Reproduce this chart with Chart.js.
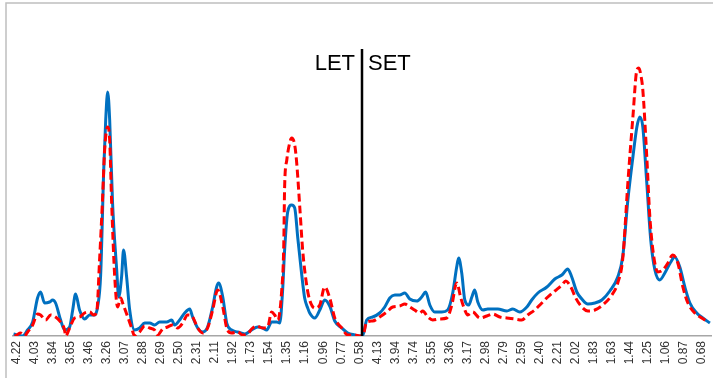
<!DOCTYPE html>
<html>
<head>
<meta charset="utf-8">
<script src="https://cdn.jsdelivr.net/npm/chart.js@4.4.1/dist/chart.umd.min.js"></script>
<style>
  html, body { margin: 0; padding: 0; background: #ffffff; }
  #wrap { width: 713px; height: 378px; }
</style>
</head>
<body>
<div id="wrap"><canvas id="c" width="713" height="378"></canvas></div>
<script>
// Tick labels (chemical shift, ppm) — LET half then SET half
const tickLabels = ['4.22','4.03','3.84','3.65','3.46','3.26','3.07','2.88','2.69','2.50','2.31','2.11','1.92','1.73','1.54','1.35','1.16','0.96','0.77','0.58',
                    '4.13','3.94','3.74','3.55','3.36','3.17','2.98','2.79','2.59','2.40','2.21','2.02','1.83','1.63','1.44','1.25','1.06','0.87','0.68'];
// x positions are in tenths of a label interval (label k sits at 10*k)
const blueX = [-1.7,3.3,6.1,8.9,11.6,13.3,15.5,18.3,20.0,21.6,24.4,26.6,29.4,31.1,32.7,34.9,37.7,40.5,43.3,44.9,46.6,48.3,49.4,50.5,51.6,53.2,55.5,56.6,58.2,59.3,61.0,62.7,65.4,68.2,71.0,73.8,76.5,79.3,83.2,86.0,87.6,90.4,93.2,96.0,97.6,100.4,103.2,105.9,108.7,110.9,112.0,114.3,116.5,119.2,122.6,126.5,128.7,130.3,133.7,136.4,138.7,141.4,144.2,145.9,147.5,148.6,150.3,152.5,154.2,155.9,158.1,159.7,161.4,162.5,165.3,168.1,170.8,173.6,176.4,180.3,183.6,187.5,190.2,
  191.8,194.1,197.4,201.3,204.1,206.9,209.7,212.4,215.2,218.0,221.9,224.6,226.8,229.1,231.8,235.7,239.0,241.8,244.0,245.1,246.8,248.5,250.7,252.4,254.0,255.7,258.5,261.2,266.8,271.8,275.1,279.0,282.9,285.6,289.0,294.0,298.4,302.3,305.6,307.8,310.6,313.4,316.7,320.6,324.5,328.9,333.3,336.1,338.9,341.7,343.9,345.5,347.2,349.4,351.6,353.9,356.6,359.4,362.7,364.9,367.7,370.5,373.3,377.1,380.5,384.4];
const blueY = [2,0,6,14,38,44,33,34,36,33,16,6,9,26,42,26,17,21,21,29,61,166,216,244,216,133,66,39,59,86,59,26,6,8,13,13,11,14,14,16,11,16,23,27,19,8,4,9,29,49,53,39,13,6,4,2,4,6,9,8,6,14,14,13,46,86,124,131,128,98,61,38,28,23,18,26,36,30,15,8,3,1,0,
  0,16,19,23,29,38,41,41,43,37,35,39,44,31,24,24,26,43,69,78,63,36,31,39,46,34,26,27,27,25,27,24,29,36,43,49,57,61,67,59,44,37,32,33,36,45,59,80,136,179,209,219,209,153,96,66,56,63,74,79,69,49,33,23,18,13];
const redX = [-1.1,0,2.2,4.4,6.1,8.9,11.6,13.3,16.1,18.9,21.6,24.4,26.6,27.2,29.4,32.2,34.9,37.7,40.5,42.7,44.4,46.0,47.7,48.8,50.5,51.6,52.7,54.4,56.0,57.7,58.8,61.6,63.8,65.4,68.2,71.0,73.8,76.5,78.2,81.0,83.7,86.5,89.3,92.1,94.8,97.6,100.4,103.2,105.9,108.7,111.5,114.3,116.5,119.2,122.6,125.3,128.1,130.3,133.1,136.4,139.2,141.4,143.1,144.8,147.0,148.1,148.6,149.8,151.4,152.5,154.2,155.3,157.0,158.6,160.8,162.5,165.3,168.1,170.8,173.6,176.4,180.3,183.6,187.5,190.2,
  191.9,194.1,197.4,201.3,205.2,208.5,212.4,215.2,218.0,220.7,223.5,225.2,228.0,230.7,234.6,238.5,241.3,244.0,246.3,248.5,250.1,252.9,256.8,260.7,264.0,267.9,271.8,276.2,280.1,283.4,287.3,291.2,294.5,298.4,302.3,304.5,307.3,310.0,313.4,316.7,320.6,325.0,330.0,333.3,336.1,338.9,341.7,343.9,345.0,346.1,347.2,349.4,351.1,353.3,355.5,358.3,361.1,363.8,366.6,369.4,372.2,376.0,379.9,383.3];
const redY = [0,1,3,0,4,11,22,21,16,21,19,14,6,0,8,18,19,23,24,21,24,76,139,186,209,196,133,59,29,38,33,19,8,0,4,10,8,6,1,7,9,11,8,13,21,19,8,3,8,26,46,29,8,3,4,1,2,7,10,8,9,24,21,16,46,89,149,176,193,198,191,173,129,86,51,36,28,31,49,38,18,8,1,1,0,
  0,14,15,19,24,29,30,32,29,26,23,25,19,16,17,18,31,53,38,26,21,24,18,20,22,19,18,17,16,21,26,33,39,45,51,55,49,38,29,25,26,31,41,53,78,153,219,266,268,261,246,179,119,79,64,66,73,81,73,49,33,23,18,14];
const seriesColors = { blue: '#0070C0', red: '#FF0000' };
const dividerAt = 191.5;   // between "0.58" and "4.13"
const dividerTop = 287;    // top of the LET | SET divider, in y units
const halfNames = ['LET', 'SET'];

const toPts = (xs, ys) => xs.map((x, i) => ({ x: x, y: ys[i] }));

const overlay = {
  id: 'overlay',
  beforeDraw(chart) {
    const ctx = chart.ctx;
    ctx.save();
    ctx.strokeStyle = '#BFBFBF';
    ctx.lineWidth = 1.5;
    ctx.strokeRect(6, 3, 900, 600);
    ctx.restore();
  },
  afterDatasetsDraw(chart) {
    const ctx = chart.ctx;
    const xs = chart.scales.x, ys = chart.scales.y;
    const x = xs.getPixelForValue(dividerAt);
    const top = ys.getPixelForValue(dividerTop);
    ctx.save();
    ctx.strokeStyle = '#000000';
    ctx.lineWidth = 2.5;
    ctx.beginPath();
    ctx.moveTo(x, top);
    ctx.lineTo(x, chart.chartArea.bottom);
    ctx.stroke();
    ctx.fillStyle = '#000000';
    ctx.font = '22px "Liberation Sans", Arial, sans-serif';
    ctx.textBaseline = 'alphabetic';
    ctx.textAlign = 'right';
    ctx.fillText(halfNames[0], x - 7, top + 21);
    ctx.textAlign = 'left';
    ctx.fillText(halfNames[1], x + 6, top + 21);
    ctx.restore();
  }
};

new Chart(document.getElementById('c'), {
  type: 'line',
  data: {
    datasets: [
      { label: 'red', data: toPts(redX, redY), borderColor: seriesColors.red, borderWidth: 3, borderDash: [8, 4],
        pointRadius: 0, cubicInterpolationMode: 'monotone', fill: false },
      { label: 'blue', data: toPts(blueX, blueY), borderColor: seriesColors.blue, borderWidth: 3,
        pointRadius: 0, cubicInterpolationMode: 'monotone', fill: false }
    ]
  },
  options: {
    responsive: false,
    animation: false,
    layout: { padding: { left: 13, right: 2, top: 6, bottom: 0 } },
    plugins: { legend: { display: false }, tooltip: { enabled: false } },
    scales: {
      x: {
        type: 'linear', min: -2, max: 385,
        grid: { display: false, drawTicks: false },
        border: { display: true, color: '#A6A6A6', width: 1.5 },
        afterBuildTicks: (s) => { s.ticks = tickLabels.map((_, k) => ({ value: k * 10 })); },
        afterFit: (s) => { s.height = 42; s.paddingLeft = 0; s.paddingRight = 0; },
        ticks: {
          autoSkip: false, maxRotation: 90, minRotation: 90, padding: 5,
          color: '#333333', font: { family: '"Liberation Sans", Arial, sans-serif', size: 12 },
          callback: (v) => tickLabels[Math.round(v / 10)]
        }
      },
      y: { display: false, min: 0, max: 330 }
    }
  },
  plugins: [overlay]
});
</script>
</body>
</html>
